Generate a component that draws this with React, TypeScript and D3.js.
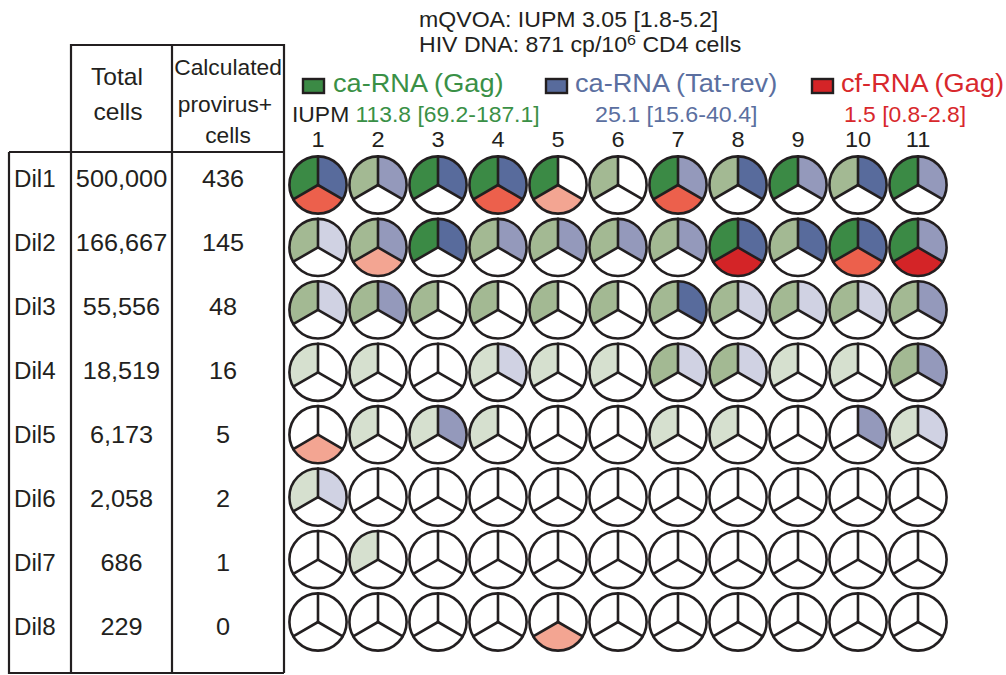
import React from 'react';
import * as d3 from 'd3';

const dilutions = ['Dil1', 'Dil2', 'Dil3', 'Dil4', 'Dil5', 'Dil6', 'Dil7', 'Dil8'];
const totalCells = [500000, 166667, 55556, 18519, 6173, 2058, 686, 229];
const proviralCells = [436, 145, 48, 16, 5, 2, 1, 0];
const wells = [1, 2, 3, 4, 5, 6, 7, 8, 9, 10, 11];

// signal level per well: 0 none, 1 low, 2 mid, 3 high
const gagLevels = [
  [3, 2, 3, 3, 3, 2, 3, 2, 3, 2, 3],
  [2, 2, 3, 2, 2, 2, 2, 3, 2, 3, 3],
  [2, 2, 2, 2, 2, 2, 2, 2, 2, 2, 2],
  [1, 1, 0, 1, 1, 1, 2, 2, 1, 1, 2],
  [0, 1, 1, 1, 0, 0, 1, 1, 0, 0, 1],
  [1, 0, 0, 0, 0, 0, 0, 0, 0, 0, 0],
  [0, 1, 0, 0, 0, 0, 0, 0, 0, 0, 0],
  [0, 0, 0, 0, 0, 0, 0, 0, 0, 0, 0],
];
const tatLevels = [
  [3, 2, 3, 3, 0, 0, 2, 3, 2, 3, 2],
  [1, 2, 3, 2, 2, 2, 2, 3, 3, 3, 2],
  [1, 2, 0, 0, 0, 0, 3, 1, 1, 1, 2],
  [0, 0, 0, 1, 0, 0, 1, 1, 0, 0, 2],
  [0, 0, 2, 0, 0, 0, 0, 0, 0, 2, 1],
  [1, 0, 0, 0, 0, 0, 0, 0, 0, 0, 0],
  [0, 0, 0, 0, 0, 0, 0, 0, 0, 0, 0],
  [0, 0, 0, 0, 0, 0, 0, 0, 0, 0, 0],
];
const cfLevels = [
  [2, 0, 0, 2, 1, 0, 2, 0, 0, 0, 0],
  [0, 1, 0, 0, 0, 0, 0, 3, 0, 2, 3],
  [0, 0, 0, 0, 0, 0, 0, 0, 0, 0, 0],
  [0, 0, 0, 0, 0, 0, 0, 0, 0, 0, 0],
  [1, 0, 0, 0, 0, 0, 0, 0, 0, 0, 0],
  [0, 0, 0, 0, 0, 0, 0, 0, 0, 0, 0],
  [0, 0, 0, 0, 0, 0, 0, 0, 0, 0, 0],
  [0, 0, 0, 0, 1, 0, 0, 0, 0, 0, 0],
];

const gagColors = ['#ffffff', '#d6e0cf', '#a3b993', '#3b8a45'];
const tatColors = ['#ffffff', '#d0d2e3', '#9499bb', '#586b9c'];
const cfColors = ['#ffffff', '#f3a592', '#ec604c', '#d42427'];

const FONT = '"Liberation Sans", Arial, sans-serif';
const INK = '#231f20';

// text slightly stretched sideways, like the original figure
const Txt: React.FC<{
  x: number; y: number; size: number; sx?: number; anchor?: string; fill?: string; children: React.ReactNode;
}> = ({ x, y, size, sx = 1.07, anchor = 'start', fill = INK, children }) => (
  <text transform={`translate(${x},${y}) scale(${sx},1)`} fontSize={size} textAnchor={anchor} fill={fill}>
    {children}
  </text>
);

const App: React.FC = () => {
  const width = 1006;
  const height = 675;

  const x = d3.scalePoint<number>().domain(wells).range([318, 918]);
  const y = d3.scalePoint<string>().domain(dilutions).range([185, 622]);
  const rowText = d3.scalePoint<string>().domain(dilutions).range([187, 635]);
  const fmt = d3.format(',');

  const r = 28.6;
  const arc = d3.arc<{ s: number; e: number }>()
    .innerRadius(0)
    .outerRadius(r)
    .startAngle(d => d.s)
    .endAngle(d => d.e);
  const third = (2 * Math.PI) / 3;
  const sectors = [
    { key: 'tat', s: 0, e: third, levels: tatLevels, colors: tatColors },
    { key: 'cf', s: third, e: 2 * third, levels: cfLevels, colors: cfColors },
    { key: 'gag', s: 2 * third, e: 3 * third, levels: gagLevels, colors: gagColors },
  ];
  const spokes = [0, third, 2 * third].map(a => [Math.sin(a) * r, -Math.cos(a) * r]);

  const legend = [
    { label: 'ca-RNA (Gag)', color: '#3b8a45', text: '#3a9046', sx: 302, tx: 333 },
    { label: 'ca-RNA (Tat-rev)', color: '#586b9c', text: '#5b6fa0', sx: 545, tx: 575 },
    { label: 'cf-RNA (Gag)', color: '#d42427', text: '#d8282c', sx: 811, tx: 841 },
  ];

  return (
    <svg width={width} height={height} style={{ position: 'absolute', left: 0, top: 0, fontFamily: FONT }}>
      <rect width={width} height={height} fill="#fff" />

      {/* title */}
      <Txt x={419} y={27} size={21.5} sx={1.075}>mQVOA: IUPM 3.05 [1.8-5.2]</Txt>
      <Txt x={419} y={52} size={21.5} sx={1.075}>
        HIV DNA: 871 cp/10<tspan dy={-7} fontSize={15}>6</tspan><tspan dy={7}> CD4 cells</tspan>
      </Txt>

      {/* legend */}
      {legend.map(l => (
        <g key={l.label}>
          <rect x={l.sx + 1} y={79} width={21} height={14} fill={l.color} stroke={INK} strokeWidth={2.4} />
          <Txt x={l.tx} y={92} size={26} sx={1.045} fill={l.text}>{l.label}</Txt>
        </g>
      ))}
      <Txt x={292} y={122} size={21.5} sx={1.065}>
        IUPM <tspan fill="#3a9046">113.8 [69.2-187.1]</tspan>
      </Txt>
      <Txt x={595} y={122} size={21.5} sx={1.08} fill="#5b6fa0">25.1 [15.6-40.4]</Txt>
      <Txt x={844} y={122} size={21.5} sx={1.065} fill="#d8282c">1.5 [0.8-2.8]</Txt>

      {/* well numbers */}
      {wells.map(w => (
        <Txt key={w} x={x(w) as number} y={147} size={22} anchor="middle">{w}</Txt>
      ))}

      {/* table */}
      <g stroke={INK} strokeWidth={2.2} fill="none">
        <path d="M71,673V45H284V673" />
        <path d="M172,45V673" />
        <path d="M9,152H284" />
        <path d="M9,152V673H284" />
      </g>
      <Txt x={117} y={85} size={23} anchor="middle">Total</Txt>
      <Txt x={118} y={120} size={23} anchor="middle">cells</Txt>
      <Txt x={228} y={75} size={21.5} anchor="middle" sx={1.06}>Calculated</Txt>
      <Txt x={225} y={112} size={21.5} anchor="middle" sx={1.06}>provirus+</Txt>
      <Txt x={228} y={143} size={21.5} anchor="middle" sx={1.06}>cells</Txt>
      {dilutions.map((d, i) => (
        <g key={d}>
          <Txt x={14} y={rowText(d) as number} size={23} sx={1.05}>{d}</Txt>
          <Txt x={121.5} y={rowText(d) as number} size={23} sx={1.1} anchor="middle">{fmt(totalCells[i])}</Txt>
          <Txt x={223} y={rowText(d) as number} size={23} sx={1.1} anchor="middle">{proviralCells[i]}</Txt>
        </g>
      ))}

      {/* wells */}
      {dilutions.map((d, i) =>
        wells.map((w, j) => (
          <g key={`${d}-${w}`} transform={`translate(${x(w)},${y(d)})`}>
            {sectors.map(s => (
              <path key={s.key} d={arc({ s: s.s, e: s.e }) || ''} fill={s.colors[s.levels[i][j]]} />
            ))}
            {spokes.map(([sx, sy], k) => (
              <line key={k} x1={0} y1={0} x2={sx} y2={sy} stroke={INK} strokeWidth={2.6} strokeLinecap="round" />
            ))}
            <circle r={r} fill="none" stroke={INK} strokeWidth={2.6} />
          </g>
        ))
      )}
    </svg>
  );
};

export default App;
